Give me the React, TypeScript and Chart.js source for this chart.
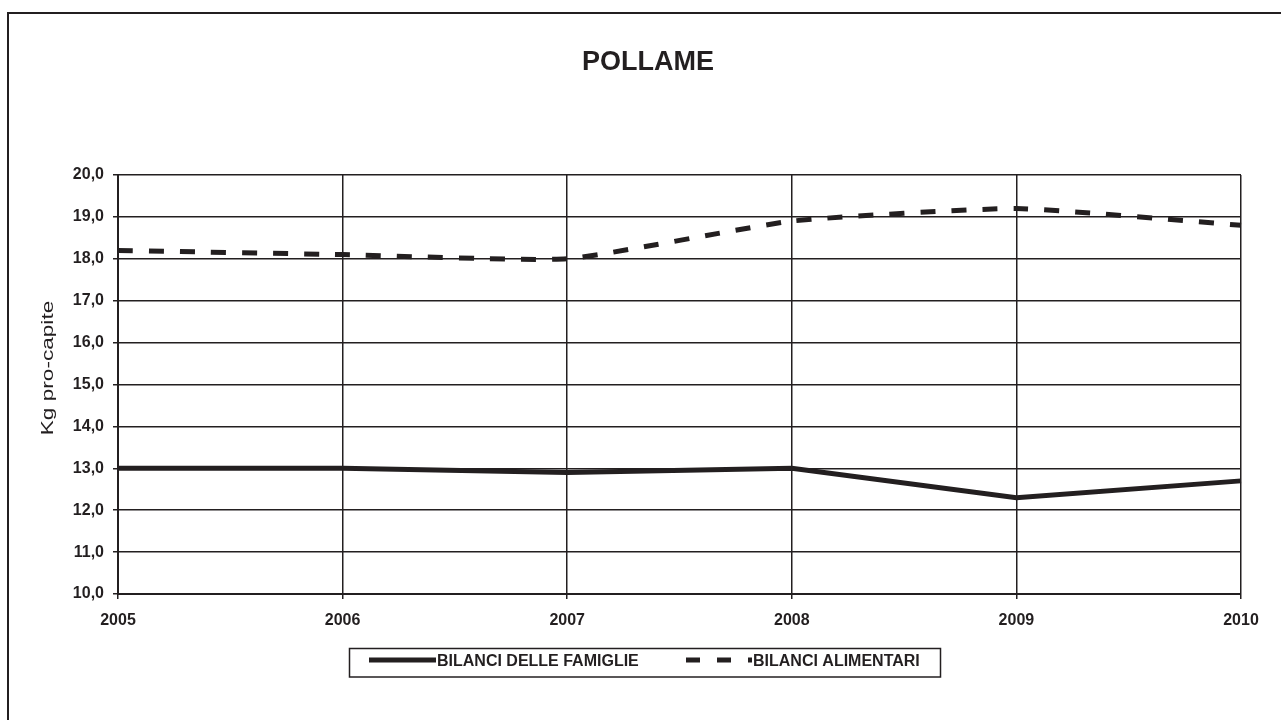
import React, { useEffect, useRef } from "react";
import { Chart, registerables } from "chart.js";

Chart.register(...registerables);

const years = ["2005", "2006", "2007", "2008", "2009", "2010"];
const famiglie = [13.0, 13.0, 12.9, 13.0, 12.3, 12.7];
const alimentari = [18.2, 18.1, 18.0, 18.9, 19.2, 18.8];
const chartTitle = "POLLAME";
const yTitle = "Kg pro-capite";
const seriesNames = ["BILANCI DELLE FAMIGLIE", "BILANCI ALIMENTARI"];

const INK = "#231f20";
const FONT = "'Liberation Sans', Arial, sans-serif";

const decorPlugin = {
  id: "decor",
  afterDraw(chart: any) {
    const ctx = chart.ctx as CanvasRenderingContext2D;
    ctx.save();
    // outer frame
    ctx.strokeStyle = INK;
    ctx.lineWidth = 2;
    ctx.strokeRect(8, 13, 1300, 800);
    // title
    ctx.fillStyle = INK;
    ctx.font = `bold 27px ${FONT}`;
    ctx.textAlign = "center";
    ctx.textBaseline = "middle";
    ctx.fillText(chartTitle, 648, 63);
    // y title
    ctx.save();
    ctx.translate(48, 368);
    ctx.rotate(-Math.PI / 2);
    ctx.scale(1.33, 1);
    ctx.font = `17px ${FONT}`;
    ctx.fillText(yTitle, 0, 0);
    ctx.restore();
    // legend box
    ctx.lineWidth = 1.5;
    ctx.strokeRect(349.5, 648.5, 591, 28.5);
    const ly = 661;
    ctx.lineWidth = 5;
    ctx.beginPath();
    ctx.moveTo(369, ly - 1);
    ctx.lineTo(436, ly - 1);
    ctx.stroke();
    ctx.setLineDash([14, 17]);
    ctx.beginPath();
    ctx.moveTo(686, ly - 1);
    ctx.lineTo(752, ly - 1);
    ctx.stroke();
    ctx.setLineDash([]);
    ctx.font = `bold 16px ${FONT}`;
    ctx.textAlign = "left";
    ctx.textBaseline = "middle";
    ctx.fillText(seriesNames[0], 437, ly + 1);
    ctx.fillText(seriesNames[1], 753, ly + 1);
    ctx.restore();
  },
};

export default function App() {
  const ref = useRef<HTMLCanvasElement | null>(null);
  useEffect(() => {
    if (!ref.current) return;
    const chart = new Chart(ref.current, {
      type: "line",
      data: {
        labels: years,
        datasets: [
          {
            label: seriesNames[0],
            data: famiglie,
            borderColor: INK,
            borderWidth: 5,
            pointRadius: 0,
            tension: 0,
            fill: false,
          },
          {
            label: seriesNames[1],
            data: alimentari,
            borderColor: INK,
            borderWidth: 5,
            borderDash: [15, 16],
            pointRadius: 0,
            tension: 0.15,
            fill: false,
          },
        ],
      },
      options: {
        responsive: false,
        animation: false,
        layout: { padding: { top: 175, right: 40, left: 0, bottom: 0 } },
        plugins: {
          legend: { display: false },
          title: { display: false },
          tooltip: { enabled: false },
        },
        scales: {
          x: {
            offset: false,
            grid: { color: INK, lineWidth: 1.5, tickLength: 5, drawTicks: true },
            border: { color: INK, width: 2 },
            ticks: {
              color: INK,
              font: { family: FONT, size: 16, weight: "bold" },
              padding: 12,
              maxRotation: 0,
            },
            afterFit: (s: any) => {
              s.height = 126;
            },
          },
          y: {
            min: 10,
            max: 20,
            grid: { color: INK, lineWidth: 1.5, tickLength: 5, drawTicks: true },
            border: { color: INK, width: 2 },
            ticks: {
              stepSize: 1,
              color: INK,
              font: { family: FONT, size: 16, weight: "bold" },
              padding: 9,
              callback: (v: any) => Number(v).toFixed(1).replace(".", ","),
            },
            afterFit: (s: any) => {
              s.width = 118;
            },
          },
        },
      },
      plugins: [decorPlugin],
    });
    return () => chart.destroy();
  }, []);
  return (
    <div style={{ position: "absolute", left: 0, top: 0, width: 1281, height: 720, background: "#fff" }}>
      <canvas ref={ref} width={1281} height={720} style={{ display: "block" }} />
    </div>
  );
}
